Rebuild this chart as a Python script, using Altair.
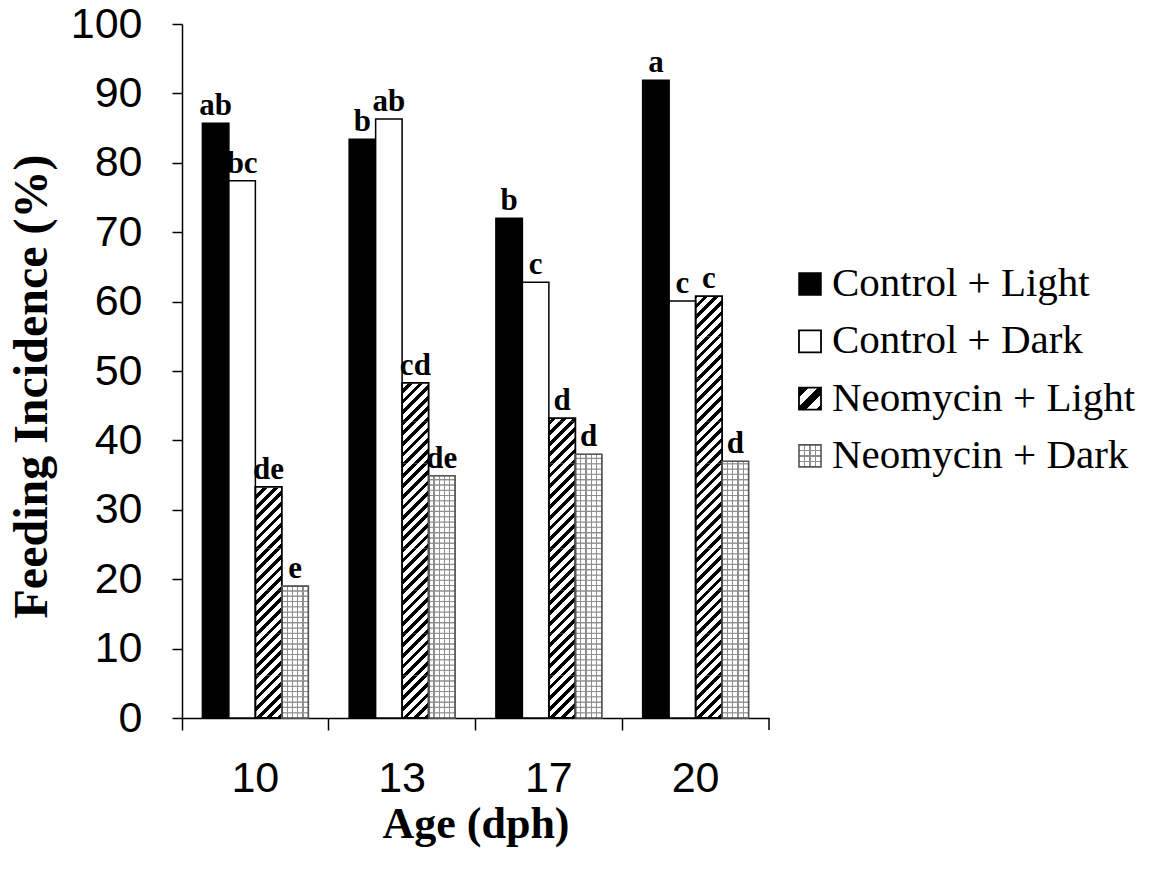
import math
import altair as alt
import pandas as pd

# ---------------- data ----------------
ages = ["10", "13", "17", "20"]
series = ["Control + Light", "Control + Dark", "Neomycin + Light", "Neomycin + Dark"]
control_light = [85.7, 83.4, 72.0, 91.9]
control_dark = [77.4, 86.3, 62.8, 60.1]
neomycin_light = [33.3, 48.3, 43.2, 60.8]
neomycin_dark = [19.0, 34.9, 38.0, 37.0]
letters_control_light = ["ab", "b", "b", "a"]
letters_control_dark = ["bc", "ab", "c", "c"]
letters_neomycin_light = ["de", "cd", "d", "c"]
letters_neomycin_dark = ["e", "de", "d", "d"]
y_ticks = list(range(0, 101, 10))

# ---------------- layout / style ----------------
W, H = 587, 694
PAD_OUT = 0.77
STEP = W / len(ages)
BW = STEP / (len(series) + 2 * PAD_OUT)      # bar width in px
PX_PER_UNIT = H / 100.0

SERIF = "Liberation Serif"
SANS = "Liberation Sans"

values = dict(zip(series, [control_light, control_dark, neomycin_light, neomycin_dark]))
letters = dict(zip(series, [letters_control_light, letters_control_dark,
                            letters_neomycin_light, letters_neomycin_dark]))

rows = []
for s in series:
    for a, v, l in zip(ages, values[s], letters[s]):
        rows.append({"age": a, "series": s, "value": v, "letter": l})
df = pd.DataFrame(rows)

# --- diagonal hatch: bars split into equal segments, each filled with a striped gradient
HATCH_P = 10.6                 # stripe period (px)
SEG_PX = 4 * HATCH_P           # segment height (px), multiple of period
SEG_U = SEG_PX / PX_PER_UNIT
hatch_rows, cover_rows = [], []
for a, v in zip(ages, neomycin_light):
    n = math.ceil(v / SEG_U)
    for k in range(n):
        hatch_rows.append({"age": a, "series": series[2], "y0": k * SEG_U, "y1": (k + 1) * SEG_U})
    cover_rows.append({"age": a, "series": series[2], "y0": v, "y1": n * SEG_U + 0.3})
hatch_df = pd.DataFrame(hatch_rows)
cover_df = pd.DataFrame(cover_rows)

# --- grid pattern: bars split into cells (stroke = horizontal lines), gradient = vertical lines
CELL_PX = BW / 5
CELL_U = CELL_PX / PX_PER_UNIT
grid_rows = []
for a, v in zip(ages, neomycin_dark):
    n = math.ceil(v / CELL_U)
    for k in range(n):
        grid_rows.append({"age": a, "series": series[3], "y0": k * CELL_U,
                          "y1": min((k + 1) * CELL_U, v)})
grid_df = pd.DataFrame(grid_rows)


def stripe_stops(period_t, on_frac, on, off):
    stops = []
    i = 0
    while i * period_t < 1:
        t0 = i * period_t
        t1 = min(t0 + on_frac * period_t, 1.0)
        t2 = min(t0 + period_t, 1.0)
        stops += [{"offset": t0, "color": on}, {"offset": t1, "color": on},
                  {"offset": t1, "color": off}, {"offset": t2, "color": off}]
        i += 1
    return stops


def line_stops(n, half_w, line, bg):
    stops = [{"offset": 0, "color": bg}]
    for k in range(1, n):
        c = k / n
        stops += [{"offset": c - half_w, "color": bg}, {"offset": c - half_w, "color": line},
                  {"offset": c + half_w, "color": line}, {"offset": c + half_w, "color": bg}]
    stops.append({"offset": 1, "color": bg})
    return stops


L_T = BW + SEG_PX ** 2 / BW
hatch_fill = {"gradient": "linear", "x1": 0, "y1": 0, "x2": 1, "y2": SEG_PX / BW,
              "stops": stripe_stops(HATCH_P / L_T, 0.45, "black", "white")}
GRID_COLOR = "#8e8e8e"
grid_fill = {"gradient": "linear", "x1": 0, "y1": 0, "x2": 1, "y2": 0,
             "stops": line_stops(5, 0.65 / BW, GRID_COLOR, "white")}

# ---------------- encodings ----------------
x_axis = alt.Axis(bandPosition=0, tickSize=12, labelAngle=0,
                  labelFont=SANS, labelFontSize=43, labelColor="black", labelPadding=27,
                  titleFont=SERIF, titleFontWeight="bold", titleFontSize=44, titleColor="black",
                  titlePadding=2, domainColor="black", tickColor="black",
                  domainWidth=1.5, tickWidth=1.5, grid=False)
y_axis = alt.Axis(values=y_ticks, tickSize=10, labelFont=SANS, labelFontSize=43,
                  labelColor="black", labelPadding=30, titleFont=SERIF, titleFontWeight="bold",
                  titleFontSize=48, titleColor="black", titlePadding=14, titleY=H / 2 + 15,
                  domainColor="black", tickColor="black", domainWidth=1.5, tickWidth=1.5,
                  grid=False)


def X(**kw):
    return alt.X("age:N", sort=ages, scale=alt.Scale(paddingInner=0, paddingOuter=0),
                 axis=x_axis, title="Age (dph)", **kw)


XOFF = alt.XOffset("series:N", sort=series,
                   scale=alt.Scale(domain=series, paddingInner=0, paddingOuter=PAD_OUT))


def Y(field):
    return alt.Y(field, scale=alt.Scale(domain=[0, 100], nice=False, zero=True),
                 axis=y_axis, title="Feeding Incidence (%)")


hatch = alt.Chart(hatch_df).mark_bar(fill=hatch_fill, strokeWidth=0).encode(
    x=X(), xOffset=XOFF, y=Y("y0:Q"), y2="y1:Q")
cover = alt.Chart(cover_df).mark_bar(fill="white", stroke="white", strokeWidth=1.5).encode(
    x=X(), xOffset=XOFF, y=Y("y0:Q"), y2="y1:Q")
solid = alt.Chart(df).transform_filter(
    alt.FieldOneOfPredicate(field="series", oneOf=series[:2])
).mark_bar(stroke="black", strokeWidth=1.5).encode(
    x=X(), xOffset=XOFF, y=Y("value:Q"),
    fill=alt.Fill("series:N", scale=alt.Scale(domain=series[:2], range=["black", "white"]),
                  legend=None))
grid = alt.Chart(grid_df).mark_bar(fill=grid_fill, stroke=GRID_COLOR, strokeWidth=1.1).encode(
    x=X(), xOffset=XOFF, y=Y("y0:Q"), y2="y1:Q")
outline_light = alt.Chart(df).transform_filter(
    alt.datum.series == series[2]
).mark_bar(fillOpacity=0, stroke="black", strokeWidth=1.8).encode(
    x=X(), xOffset=XOFF, y=Y("value:Q"))
outline_dark = alt.Chart(df).transform_filter(
    alt.datum.series == series[3]
).mark_bar(fillOpacity=0, stroke="#555555", strokeWidth=1.6).encode(
    x=X(), xOffset=XOFF, y=Y("value:Q"))
labels = alt.Chart(df).mark_text(baseline="bottom", dy=-1, font=SERIF, fontWeight="bold",
                                 fontSize=31, color="black").encode(
    x=X(), xOffset=XOFF, y=Y("value:Q"), text="letter:N")
end_tick = alt.Chart(pd.DataFrame({"age": [ages[-1]]})).mark_rule(
    color="black", strokeWidth=1.5).encode(
    x=X(bandPosition=1), y=alt.value(H), y2=alt.value(H + 12))

main = alt.layer(hatch, cover, solid, grid, outline_light, outline_dark, labels, end_tick
                 ).properties(width=W, height=H)

# ---------------- legend panel ----------------
legend_df = pd.DataFrame({"label": series})
LEG_Y0, LEG_DY = 260, 57.3
LY = alt.Y("label:N", sort=series,
           scale=alt.Scale(type="point", padding=0, range=[LEG_Y0, LEG_Y0 + 3 * LEG_DY]),
           axis=None)
SYM = 484
SX = alt.value(20)

leg_hatch_fill = {"gradient": "linear", "x1": 0, "y1": 0, "x2": 1, "y2": 1,
                  "stops": stripe_stops(0.44, 0.5, "black", "white")}
leg_grid_v = {"gradient": "linear", "x1": 0, "y1": 0, "x2": 1, "y2": 0,
              "stops": line_stops(4, 0.035, GRID_COLOR, "white")}
leg_grid_h = {"gradient": "linear", "x1": 0, "y1": 0, "x2": 0, "y2": 1,
              "stops": line_stops(4, 0.035, GRID_COLOR, "rgba(255,255,255,0)")}


def sym(idx, **mk):
    return alt.Chart(legend_df).transform_filter(
        alt.datum.label == series[idx]
    ).mark_square(size=SYM, opacity=1, **mk).encode(x=SX, y=LY)


leg = alt.layer(
    sym(0, fill="black", stroke="black", strokeWidth=1.5),
    sym(1, fill="white", stroke="black", strokeWidth=1.8),
    sym(2, fill=leg_hatch_fill, stroke="black", strokeWidth=1.8),
    sym(3, fill=leg_grid_v, strokeWidth=0),
    sym(3, fill=leg_grid_h, stroke="#555555", strokeWidth=1.6),
    alt.Chart(legend_df).mark_text(align="left", baseline="middle", font=SERIF, fontSize=41,
                                   color="black").encode(x=alt.value(42), y=LY, text="label:N"),
).properties(width=345, height=H)

chart = alt.hconcat(main, leg, spacing=20).properties(
    padding={"left": 8, "top": 3, "right": 5, "bottom": 5}
).configure_view(stroke=None)

chart.save("out.html", embed_options={"renderer": "svg", "actions": False})
